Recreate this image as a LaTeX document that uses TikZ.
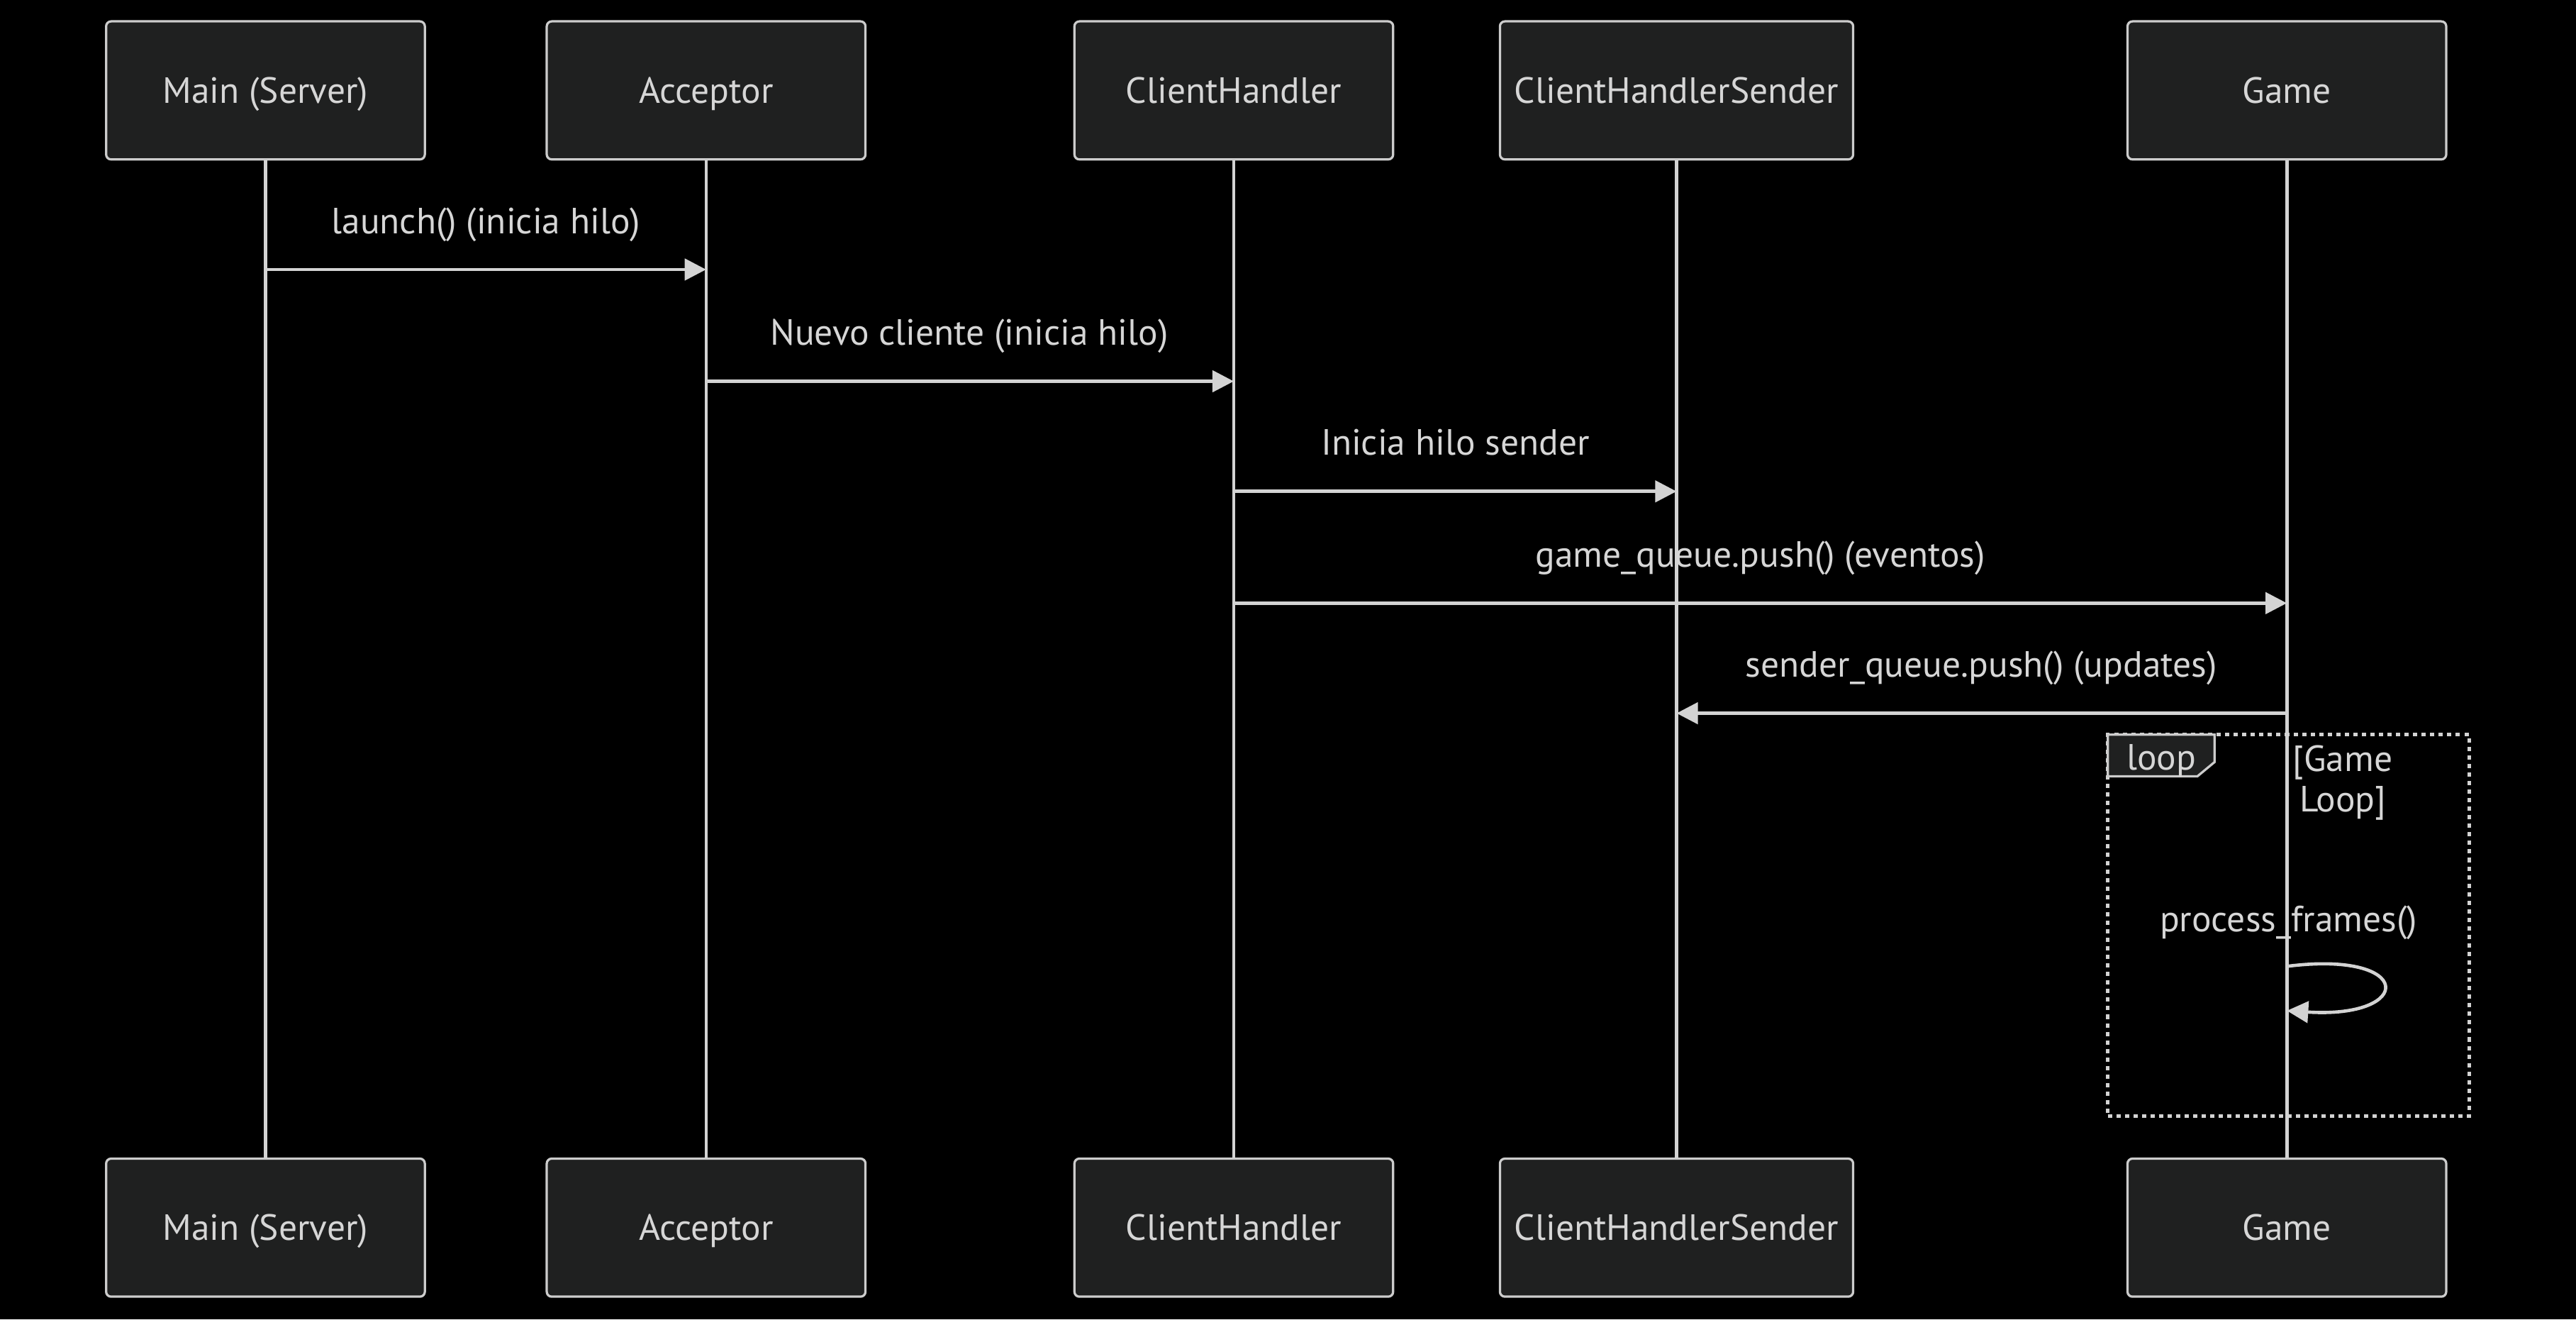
\documentclass[tikz,border=0pt]{standalone}
\usepackage{fontspec}
\setmainfont{PT Sans}
\usetikzlibrary{arrows.meta}
\definecolor{boxfill}{HTML}{1F2020}
\definecolor{boxline}{HTML}{CCCCCC}
\definecolor{txt}{HTML}{D6D6D6}
\definecolor{sig}{HTML}{D3D3D3}
\tikzset{
  actor/.style={draw=boxline, fill=boxfill, line width=0.7pt, rounded corners=1.5pt,
    minimum height=42pt, minimum width=97pt, text=txt, font=\fontsize{11.1}{13}\selectfont,
    inner sep=0pt, text height=8pt, text depth=0.2pt},
  life/.style={draw=sig, line width=1pt},
  msg/.style={draw=sig, line width=1pt, -{Triangle[length=6.5pt,width=6.5pt]}},
  lbl/.style={text=txt, font=\fontsize{11.1}{13}\selectfont, inner sep=0pt, anchor=base},
  loopframe/.style={draw=sig, line width=1pt, dash pattern=on 1.3pt off 1.3pt,
    minimum width=110pt, minimum height=116pt, inner sep=0pt},
  looptab/.style={draw=boxline, fill=boxfill, line width=0.7pt}
}
\begin{document}
\begin{tikzpicture}[x=0.5pt,y=-0.5pt]
\useasboundingbox[fill=black] (0,0) rectangle (1568,802.8);

% actors top
\node[actor] (mainT) at (161.6,55) {Main (Server)};
\node[actor] (accT) at (429.8,55) {Acceptor};
\node[actor] (chT) at (751,55) {ClientHandler};
\node[actor, minimum width=107.5pt] (chsT) at (1020.5,55) {ClientHandlerSender};
\node[actor] (gameT) at (1392,55) {Game};
% actors bottom
\node[actor] (mainB) at (161.6,747) {Main (Server)};
\node[actor] (accB) at (429.8,747) {Acceptor};
\node[actor] (chB) at (751,747) {ClientHandler};
\node[actor, minimum width=107.5pt] (chsB) at (1020.5,747) {ClientHandlerSender};
\node[actor] (gameB) at (1392,747) {Game};

% loop frame
\node[loopframe] (loopbox) at (1393,563) {};

% lifelines
\draw[life] (mainT.south) -- (mainB.north);
\draw[life] (accT.south) -- (accB.north);
\draw[life] (chT.south) -- (chB.north);
\draw[life] (chsT.south) -- (chsB.north);
\draw[life] (gameT.south) -- (gameB.north);

% message end points
\coordinate (m1s) at (mainT.south |- 0,164);
\coordinate (m1e) at (accT.south |- 0,164);
\coordinate (m2s) at (accT.south |- 0,232);
\coordinate (m2e) at (chT.south |- 0,232);
\coordinate (m3s) at (chT.south |- 0,299);
\coordinate (m3e) at (chsT.south |- 0,299);
\coordinate (m4s) at (chT.south |- 0,367);
\coordinate (m4e) at (gameT.south |- 0,367);
\coordinate (m5s) at (gameT.south |- 0,434);
\coordinate (m5e) at (chsT.south |- 0,434);
\coordinate (m6s) at (gameT.south |- 0,588);
\coordinate (m6e) at (gameT.south |- 0,615);

\draw[msg] (m1s) -- (m1e);
\draw[msg] (m2s) -- (m2e);
\draw[msg] (m3s) -- (m3e);
\draw[msg] (m4s) -- (m4e);
\draw[msg] (m5s) -- (m5e);
\draw[msg] (m6s) .. controls (1470,578) and (1470,620) .. (m6e);

% labels
\node[lbl] (l1) at (295.7,142) {launch() (inicia hilo)};
\node[lbl] (l2) at (590,210) {Nuevo cliente (inicia hilo)};
\node[lbl] (l3) at (885.8,277) {Inicia hilo sender};
\node[lbl] (l4) at (1071.5,345) {game\_queue.push() (eventos)};
\node[lbl] (l5) at (1206,412) {sender\_queue.push() (updates)};
\node[lbl] (l6) at (1393,567) {process\_frames()};

% loop tab
\draw[looptab] (1283,447) -- (1348,447) -- (1348,463.7) -- (1337.5,472.4) -- (1283,472.4) -- cycle;
\node[lbl] (looplbl) at (1315.5,468.4) {loop};
\node[lbl] (gl1) at (1426,469.4) {[Game};
\node[lbl] (gl2) at (1426,494) {Loop]};
\end{tikzpicture}
\end{document}
